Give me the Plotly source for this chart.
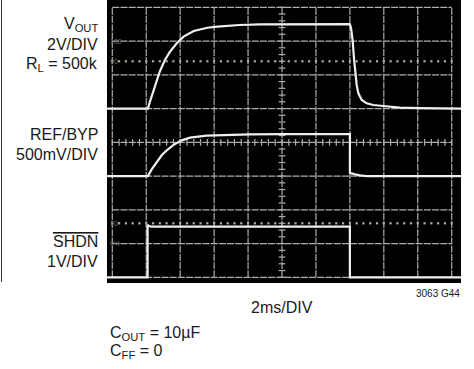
import plotly.graph_objects as go

# ---------------- data ----------------
# time in ms (2 ms/DIV); voltages in each channel's own units
vout_t_ms = [-0.31, 2.1, 2.2, 2.5, 2.8, 3.1, 3.4, 3.8, 4.2, 4.8, 5.6, 6.2, 7.5, 8.7, 10.0, 12.0, 14.0,
             14.07, 14.17, 14.24, 14.30, 14.40, 14.50, 14.70, 14.99, 15.38, 15.97, 16.95, 18.1, 20.55]
vout_v = [0, 0, 0.35, 1.35, 2.2, 2.88, 3.37, 3.87, 4.26, 4.60, 4.79, 4.85, 4.95, 4.99, 5.0, 5.0, 5.0,
          4.76, 3.96, 2.98, 2.18, 1.40, 0.90, 0.51, 0.31, 0.21, 0.15, 0.06, 0.03, 0.0]

ref_t_ms = [-0.31, 2.1, 2.32, 2.62, 2.91, 3.21, 3.59, 4.09, 4.58, 5.56, 6.54, 8.11, 10.0, 14.0,
            14.0, 14.05, 14.30, 14.60, 14.99, 20.55]
ref_mv = [0, 0, 99, 213, 307, 381, 459, 529, 569, 599, 607, 618, 620, 620,
          47, 45, 25, 10, 0, 0]

shdn_t_ms = [-0.31, 2.08, 2.08, 2.15, 2.3, 14.0, 14.0, 20.55]
shdn_v = [0, 0, 1.56, 1.52, 1.5, 1.5, 0, 0]

left_labels = ["V<sub>OUT</sub>", "2V/DIV", "R<sub>L</sub> = 500k", "REF/BYP", "500mV/DIV",
               "<span style='text-decoration:overline'>SHDN</span>", "1V/DIV"]
x_label = "2ms/DIV"
note_labels = ["C<sub>OUT</sub> = 10µF", "C<sub>FF</sub> = 0"]
fig_id = "3063 G44"
scope_marks = ["100", "90", "10", "0%"]
scope_mark_levels = [7.0, 6.4, 1.6, 1.0]

# channel scales (units per division) and ground positions (divisions)
VOUT_VDIV, VOUT_GND = 2.0, 5.0
REF_MVDIV, REF_GND = 500.0, 3.0
SHDN_VDIV, SHDN_GND = 1.0, 0.0
MS_PER_DIV = 2.0
N_XDIV, N_YDIV = 10, 8

# ---------------- geometry ----------------
W, H = 474, 369
L, R, T, B = 107, 461, 0, 283            # scope screen in px
GX0, GX1, GY0, GY1 = 112.3, 451.7, 277.3, 7.3  # graticule in px

ms_per_px = N_XDIV * MS_PER_DIV / (GX1 - GX0)
div_per_px = N_YDIV / (GY0 - GY1)
x_range = [(L - GX0) * ms_per_px, (R - GX0) * ms_per_px]
y_range = [(GY0 - B) * div_per_px, (GY0 - T) * div_per_px]


def pxx(xp):
    return (xp - L) / (R - L)


def pxy(yp):
    return (B - yp) / (B - T)


GRID_COL = "#adadad"
TRACE_COL = "#efefef"
FONT = "Liberation Sans Narrow, Arial Narrow, Liberation Sans, Arial, sans-serif"
FS = 16

fig = go.Figure()

# graticule lines
gx, gy = [], []
xmax = N_XDIV * MS_PER_DIV
for i in range(N_XDIV + 1):
    t = i * MS_PER_DIV
    gx += [t, t, None]
    gy += [0, N_YDIV, None]
for j in range(N_YDIV + 1):
    gx += [0, xmax, None]
    gy += [j, j, None]
fig.add_trace(go.Scatter(x=gx, y=gy, mode="lines", line=dict(color=GRID_COL, width=1.2, dash="7px,1.2px"),
                         hoverinfo="skip", showlegend=False))

# center-cross minor ticks
tx, ty = [], []
xc, yc = xmax / 2, N_YDIV / 2
half_t = 0.1 * MS_PER_DIV
for k in range(N_YDIV * 5 + 1):
    y = k * 0.2
    tx += [xc - half_t, xc + half_t, None]
    ty += [y, y, None]
for k in range(N_XDIV * 5 + 1):
    t = k * 0.2 * MS_PER_DIV
    tx += [t, t, None]
    ty += [yc - 0.1, yc + 0.1, None]
fig.add_trace(go.Scatter(x=tx, y=ty, mode="lines", line=dict(color=GRID_COL, width=1.2),
                         hoverinfo="skip", showlegend=False))

# 10% / 90% dotted lines
dx, dy = [], []
for lvl in (1.6, 6.4):
    for k in range(N_XDIV * 5 + 1):
        dx.append(k * 0.2 * MS_PER_DIV)
        dy.append(lvl)
fig.add_trace(go.Scatter(x=dx, y=dy, mode="markers",
                         marker=dict(symbol="square", size=2.2, color=GRID_COL, line=dict(width=0)),
                         hoverinfo="skip", showlegend=False))

# channel traces
fig.add_trace(go.Scatter(x=vout_t_ms, y=[VOUT_GND + v / VOUT_VDIV for v in vout_v], mode="lines",
                         line=dict(color=TRACE_COL, width=2.2), showlegend=False, name="VOUT"))
fig.add_trace(go.Scatter(x=ref_t_ms, y=[REF_GND + v / REF_MVDIV for v in ref_mv], mode="lines",
                         line=dict(color=TRACE_COL, width=2.2), showlegend=False, name="REF/BYP"))
fig.add_trace(go.Scatter(x=shdn_t_ms, y=[SHDN_GND + v / SHDN_VDIV for v in shdn_v], mode="lines",
                         line=dict(color=TRACE_COL, width=2.2), showlegend=False, name="SHDN"))

annotations = []
# left channel labels (right aligned at x=99 px), y = cap-middle px
label_y = [23.5, 43.0, 63.7, 133.0, 153.7, 240.0, 260.0]
for txt, yp in zip(left_labels, label_y):
    annotations.append(dict(text=txt, xref="paper", yref="paper", x=pxx(99.5), y=pxy(yp + 1),
                            xanchor="right", yanchor="middle", showarrow=False,
                            font=dict(family=FONT, size=FS, color="#1a1a1a")))
# scope screen percentage marks
for txt, lvl in zip(scope_marks, scope_mark_levels):
    annotations.append(dict(text=txt, xref="paper", yref="y", x=pxx(108), y=lvl,
                            xanchor="left", yanchor="middle", showarrow=False,
                            font=dict(family=FONT, size=7, color="#707070")))
annotations.append(dict(text=x_label, xref="paper", yref="paper", x=pxx(281.5), y=pxy(307),
                        xanchor="center", yanchor="middle", showarrow=False,
                        font=dict(family=FONT, size=FS, color="#1a1a1a")))
annotations.append(dict(text=fig_id, xref="paper", yref="paper", x=pxx(461.5), y=pxy(293.5),
                        xanchor="right", yanchor="middle", showarrow=False,
                        font=dict(family=FONT, size=10, color="#1a1a1a")))
for txt, yp in zip(note_labels, [332.5, 350.5]):
    annotations.append(dict(text=txt, xref="paper", yref="paper", x=pxx(107.5), y=pxy(yp + 1),
                            xanchor="left", yanchor="middle", showarrow=False,
                            font=dict(family=FONT, size=FS, color="#1a1a1a")))

shapes = [dict(type="line", xref="paper", yref="paper", x0=pxx(1.5), x1=pxx(1.5), y0=pxy(0), y1=pxy(282),
               line=dict(color="#333333", width=1))]

fig.update_layout(
    width=W, height=H,
    margin=dict(l=L, r=W - R, t=T, b=H - B, pad=0),
    paper_bgcolor="white", plot_bgcolor="black",
    xaxis=dict(range=x_range, showgrid=False, zeroline=False, showticklabels=False, ticks="",
               showline=False, fixedrange=True),
    yaxis=dict(range=y_range, showgrid=False, zeroline=False, showticklabels=False, ticks="",
               showline=False, fixedrange=True),
    annotations=annotations, shapes=shapes, showlegend=False,
)

fig.write_html("out.html", config={"displayModeBar": False},
               post_script="document.body.style.margin='0';document.body.style.overflow='hidden';")
